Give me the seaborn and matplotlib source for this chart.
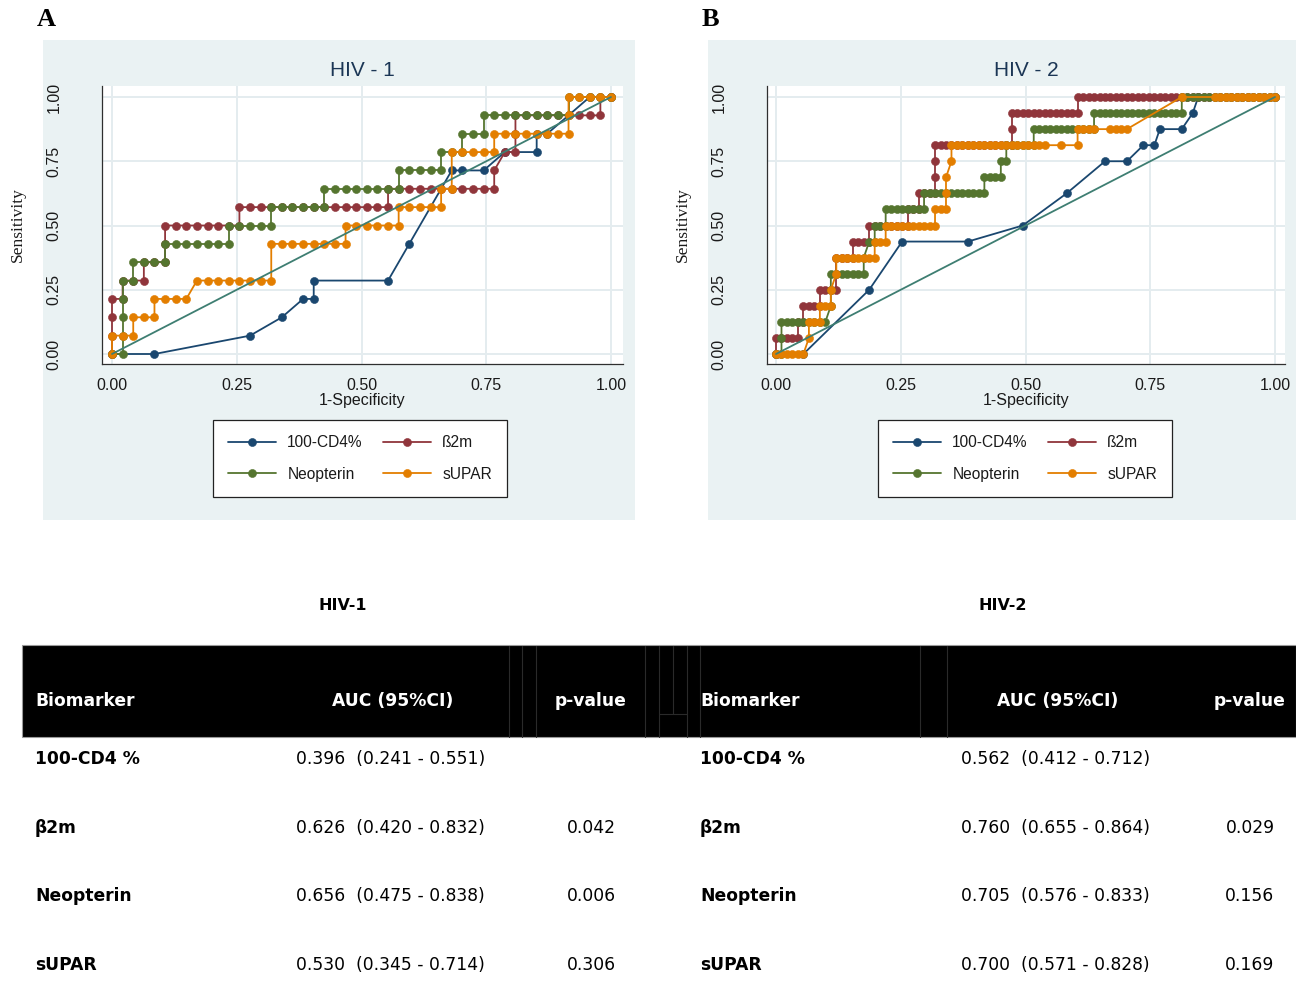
import numpy as np
import pandas as pd
import matplotlib
matplotlib.use("Agg")
import matplotlib.pyplot as plt
from matplotlib.patches import Rectangle
from matplotlib.lines import Line2D
import seaborn as sns

# ---------------------------------------------------------------------------
# ROC curves: (false positives, true positives) counted at each cut-off
# ---------------------------------------------------------------------------
HIV1_N_CONTROLS = 47
HIV1_N_CASES = 14
HIV2_N_CONTROLS = 91
HIV2_N_CASES = 16

hiv1_cd4 = [(0, 0), (4, 0), (13, 1), (16, 2), (18, 3), (19, 3), (19, 4), (26, 4), (28, 6),
            (32, 10), (33, 10), (35, 10), (37, 11), (40, 11), (40, 12), (41, 12), (45, 14), (47, 14)]

hiv1_b2m = [(0, 0), (0, 1), (0, 2), (0, 3), (1, 3), (1, 4), (2, 4), (3, 4), (3, 5), (4, 5), (5, 5),
            (5, 6), (5, 7), (6, 7), (7, 7), (8, 7), (9, 7), (10, 7), (11, 7), (12, 7), (12, 8),
            (13, 8), (14, 8), (15, 8), (16, 8), (17, 8), (18, 8), (19, 8), (20, 8), (21, 8), (22, 8),
            (23, 8), (24, 8), (25, 8), (26, 8), (26, 9), (27, 9), (28, 9), (29, 9), (30, 9), (31, 9),
            (32, 9), (33, 9), (34, 9), (35, 9), (36, 9), (36, 10), (37, 11), (38, 11), (38, 12),
            (38, 13), (39, 13), (40, 13), (41, 13), (42, 13), (43, 13), (44, 13), (45, 13), (46, 13),
            (46, 14), (47, 14)]

hiv1_neo = [(0, 0), (1, 0), (1, 1), (1, 2), (1, 3), (1, 4), (2, 4), (2, 5), (3, 5), (4, 5), (5, 5),
            (5, 6), (6, 6), (7, 6), (8, 6), (9, 6), (10, 6), (11, 6), (11, 7), (12, 7), (13, 7),
            (14, 7), (15, 7), (15, 8), (16, 8), (17, 8), (18, 8), (19, 8), (20, 8), (20, 9), (21, 9),
            (22, 9), (23, 9), (24, 9), (25, 9), (26, 9), (27, 9), (27, 10), (28, 10), (29, 10),
            (30, 10), (31, 10), (31, 11), (32, 11), (33, 11), (33, 12), (34, 12), (35, 12), (35, 13),
            (36, 13), (37, 13), (38, 13), (39, 13), (40, 13), (41, 13), (42, 13), (43, 13), (43, 14),
            (44, 14), (45, 14), (46, 14), (47, 14)]

hiv1_supar = [(0, 0), (0, 1), (1, 1), (2, 1), (2, 2), (3, 2), (4, 2), (4, 3), (5, 3), (6, 3), (7, 3),
              (8, 4), (9, 4), (10, 4), (11, 4), (12, 4), (13, 4), (14, 4), (15, 4), (15, 6), (16, 6),
              (17, 6), (18, 6), (19, 6), (20, 6), (21, 6), (22, 6), (22, 7), (23, 7), (24, 7), (25, 7),
              (26, 7), (27, 7), (27, 8), (28, 8), (29, 8), (30, 8), (31, 8), (31, 9), (32, 9), (32, 11),
              (33, 11), (34, 11), (35, 11), (36, 11), (36, 12), (37, 12), (38, 12), (39, 12), (40, 12),
              (41, 12), (42, 12), (43, 12), (43, 13), (43, 14), (44, 14), (45, 14), (46, 14), (47, 14)]

hiv2_cd4 = [(0, 0), (5, 0), (17, 4), (23, 7), (35, 7), (45, 8), (53, 10), (60, 12), (64, 12), (67, 13),
            (69, 13), (70, 14), (74, 14), (76, 15), (77, 16), (91, 16)]

hiv2_b2m = [(0, 0), (0, 1), (1, 1), (2, 1), (3, 1), (4, 1), (4, 2), (5, 2), (5, 3), (6, 3), (7, 3),
            (8, 3), (8, 4), (9, 4), (10, 4), (11, 4), (11, 5), (11, 6), (12, 6), (13, 6), (14, 6),
            (14, 7), (15, 7), (16, 7), (17, 7), (17, 8), (18, 8), (19, 8), (20, 8), (21, 8), (22, 8),
            (23, 8), (24, 8), (24, 9), (25, 9), (26, 9), (26, 10), (27, 10), (28, 10), (29, 10),
            (29, 11), (29, 12), (29, 13), (30, 13), (31, 13), (32, 13), (33, 13), (34, 13), (35, 13),
            (36, 13), (37, 13), (38, 13), (39, 13), (40, 13), (41, 13), (42, 13), (43, 13), (43, 14),
            (43, 15), (44, 15), (45, 15), (46, 15), (47, 15), (48, 15), (49, 15), (50, 15), (51, 15),
            (52, 15), (53, 15), (54, 15), (55, 15), (55, 16), (56, 16), (57, 16), (58, 16), (59, 16),
            (60, 16), (61, 16), (62, 16), (63, 16), (64, 16), (65, 16), (66, 16), (67, 16), (68, 16),
            (69, 16), (70, 16), (71, 16), (72, 16), (73, 16), (74, 16), (75, 16), (76, 16), (77, 16),
            (78, 16), (79, 16), (80, 16), (81, 16), (82, 16), (83, 16), (84, 16), (85, 16), (86, 16),
            (87, 16), (88, 16), (89, 16), (90, 16), (91, 16)]

hiv2_neo = [(0, 0), (1, 0), (1, 1), (1, 2), (2, 2), (3, 2), (4, 2), (5, 2), (6, 2), (7, 2), (8, 2),
            (9, 2), (10, 3), (10, 4), (10, 5), (11, 5), (12, 5), (13, 5), (14, 5), (15, 5), (16, 5),
            (16, 6), (17, 7), (18, 7), (18, 8), (19, 8), (20, 8), (20, 9), (21, 9), (22, 9), (23, 9),
            (24, 9), (25, 9), (26, 9), (27, 9), (27, 10), (28, 10), (29, 10), (30, 10), (31, 10),
            (32, 10), (33, 10), (34, 10), (35, 10), (36, 10), (37, 10), (38, 10), (38, 11), (39, 11),
            (40, 11), (41, 11), (41, 12), (42, 12), (42, 13), (43, 13), (44, 13), (45, 13), (46, 13),
            (47, 13), (47, 14), (48, 14), (49, 14), (50, 14), (51, 14), (52, 14), (53, 14), (54, 14),
            (55, 14), (56, 14), (57, 14), (58, 14), (58, 15), (59, 15), (60, 15), (61, 15), (62, 15),
            (63, 15), (64, 15), (65, 15), (66, 15), (67, 15), (68, 15), (69, 15), (70, 15), (71, 15),
            (72, 15), (73, 15), (74, 15), (74, 16), (75, 16), (76, 16), (77, 16), (78, 16), (79, 16),
            (80, 16), (81, 16), (82, 16), (83, 16), (84, 16), (85, 16), (86, 16), (87, 16), (88, 16),
            (89, 16), (90, 16), (91, 16)]

hiv2_supar = [(0, 0), (1, 0), (2, 0), (3, 0), (4, 0), (5, 0), (6, 1), (6, 2), (7, 2), (8, 2), (8, 3),
              (9, 3), (10, 3), (10, 4), (11, 5), (11, 6), (12, 6), (13, 6), (14, 6), (15, 6), (16, 6),
              (17, 6), (18, 6), (18, 7), (19, 7), (20, 7), (20, 8), (21, 8), (22, 8), (23, 8), (24, 8),
              (25, 8), (26, 8), (27, 8), (28, 8), (29, 8), (29, 9), (30, 9), (31, 9), (31, 10), (31, 11),
              (32, 12), (32, 13), (33, 13), (34, 13), (35, 13), (36, 13), (37, 13), (38, 13), (39, 13),
              (40, 13), (41, 13), (42, 13), (43, 13), (44, 13), (45, 13), (46, 13), (47, 13), (48, 13),
              (49, 13), (52, 13), (55, 13), (55, 14), (56, 14), (57, 14), (58, 14), (61, 14), (62, 14),
              (63, 14), (64, 14), (74, 16), (80, 16), (81, 16), (82, 16), (83, 16), (84, 16), (85, 16),
              (86, 16), (87, 16), (88, 16), (89, 16), (90, 16), (91, 16)]

series_names = ["100-CD4%", "ß2m", "Neopterin", "sUPAR"]
series_colors = ["#1a476f", "#90353b", "#55752f", "#e37e00"]
reference_line = [0.0, 1.0]
axis_ticks = [0.0, 0.25, 0.5, 0.75, 1.0]
axis_tick_labels = ["0.00", "0.25", "0.50", "0.75", "1.00"]

# ---------------------------------------------------------------------------
# Summary table
# ---------------------------------------------------------------------------
table_markers = ["100-CD4 %", "β2m", "Neopterin", "sUPAR"]
hiv1_auc = [0.396, 0.626, 0.656, 0.530]
hiv1_ci_low = [0.241, 0.420, 0.475, 0.345]
hiv1_ci_high = [0.551, 0.832, 0.838, 0.714]
hiv1_p = [None, 0.042, 0.006, 0.306]
hiv2_auc = [0.562, 0.760, 0.705, 0.700]
hiv2_ci_low = [0.412, 0.655, 0.576, 0.571]
hiv2_ci_high = [0.712, 0.864, 0.833, 0.828]
hiv2_p = [None, 0.029, 0.156, 0.169]

# ---------------------------------------------------------------------------
sns.set_theme(style="white")
plt.rcParams["font.family"] = ["Liberation Sans Narrow", "Liberation Sans", "DejaVu Sans"]

W, H = 1296, 1008
fig = plt.figure(figsize=(W / 100, H / 100), dpi=100)
fig.patch.set_facecolor("white")


def fx(px):
    return px / W


def fy(py):
    return 1 - py / H


REGION = "#eaf2f3"
GRID = "#e4ecef"
REF = "#3e7e72"
TITLE = "#1b3655"
AXIS = "#2f2f2f"
INK = "#1a1a1a"


def panel(curves, n_ctrl, n_case, title, region, axes_px, zero_px, letter, legend_cx):
    rx0, ry0, rx1, ry1 = region
    fig.add_artist(Rectangle((fx(rx0), fy(ry1)), fx(rx1) - fx(rx0), fy(ry0) - fy(ry1),
                             transform=fig.transFigure, facecolor=REGION, edgecolor="none", zorder=0))
    fig.text(fx(rx0 - 6), fy(20), letter, fontsize=19, fontweight="bold",
             family="Liberation Serif", ha="left", va="center", color="black")

    ax0, ay0, ax1, ay1 = axes_px
    ax = fig.add_axes([fx(ax0), fy(ay1), (ax1 - ax0) / W, (ay1 - ay0) / H])
    ax.set_facecolor("white")
    x0px, y0px = zero_px
    unit_x, unit_y = 499.0, 257.0
    ax.set_xlim((ax0 - x0px) / unit_x, (ax1 - x0px) / unit_x)
    ax.set_ylim((y0px - ay1) / unit_y, (y0px - ay0) / unit_y)

    for name, color, pts in zip(series_names, series_colors, curves):
        arr = np.asarray(pts, dtype=float)
        df = pd.DataFrame({"fpr": arr[:, 0] / n_ctrl, "tpr": arr[:, 1] / n_case})
        sns.lineplot(data=df, x="fpr", y="tpr", sort=False, estimator=None, ax=ax,
                     color=color, linewidth=1.3, marker="o", markersize=5.8,
                     markeredgecolor=color, markeredgewidth=0.4, label=name)
    sns.lineplot(x=reference_line, y=reference_line, ax=ax, color=REF, linewidth=1.3,
                 legend=False, zorder=6)

    ax.set_xticks(axis_ticks, axis_tick_labels)
    ax.set_yticks(axis_ticks, axis_tick_labels, rotation=90, va="center")
    ax.grid(True, color=GRID, linewidth=1.4)
    ax.set_axisbelow(True)
    for side in ("top", "right"):
        ax.spines[side].set_visible(False)
    for side in ("left", "bottom"):
        ax.spines[side].set_color(AXIS)
        ax.spines[side].set_linewidth(0.9)
    ax.tick_params(axis="both", direction="out", length=5, width=0.9, color=AXIS,
                   labelsize=11.5, labelcolor=INK)
    ax.tick_params(axis="x", pad=5)
    ax.tick_params(axis="y", pad=24)

    ax.set_xlabel("1-Specificity", fontsize=11.5, color=INK)
    ax.xaxis.set_label_coords(0.5, (ay1 - 401) / (ay1 - ay0))
    ax.xaxis.label.set_va("center")
    ax.set_ylabel("Sensitivity", fontsize=12.5, family="Liberation Serif", color=INK)
    ax.yaxis.set_label_coords(-(ax0 - (rx0 - 25)) / (ax1 - ax0), 0.5)
    ax.yaxis.label.set_va("center")
    ax.set_title(title, fontsize=15, color=TITLE, y=(ay1 - 70) / (ay1 - ay0), va="center", pad=0)

    handles, labels = ax.get_legend_handles_labels()
    ax.get_legend().remove()
    order = [0, 2, 1, 3]
    leg = fig.legend([handles[i] for i in order], [labels[i] for i in order], ncol=2,
                     loc="center", bbox_to_anchor=(fx(legend_cx), fy(458.5)),
                     frameon=True, fancybox=False, edgecolor="#222222", framealpha=1,
                     fontsize=11.2, handlelength=3.1, numpoints=1, columnspacing=1.3,
                     labelspacing=1.05, borderpad=1.0, handletextpad=0.7)
    leg.get_frame().set_linewidth(0.9)
    for t in leg.get_texts():
        t.set_color(INK)
    return ax


panel([hiv1_cd4, hiv1_b2m, hiv1_neo, hiv1_supar], HIV1_N_CONTROLS, HIV1_N_CASES, "HIV - 1",
      (43, 40, 635, 520), (102, 86, 623, 364), (112, 354), "A", 360)
panel([hiv2_cd4, hiv2_b2m, hiv2_neo, hiv2_supar], HIV2_N_CONTROLS, HIV2_N_CASES, "HIV - 2",
      (708, 40, 1296, 520), (767, 86, 1285, 364), (776, 354), "B", 1025)

# ---------------------------------------------------------------------------
# Table of AUC values
# ---------------------------------------------------------------------------
TFONT = "DejaVu Sans"
TSIZE = 12.3

fig.text(fx(343), fy(605), "HIV-1", fontsize=11.5, fontweight="bold", family=TFONT,
         ha="center", va="center", color="black")
fig.text(fx(1003), fy(605), "HIV-2", fontsize=11.5, fontweight="bold", family=TFONT,
         ha="center", va="center", color="black")

fig.add_artist(Rectangle((fx(22), fy(737)), fx(1296) - fx(22), fy(645) - fy(737),
                         transform=fig.transFigure, facecolor="black", edgecolor="#9a9a9a",
                         linewidth=0.8, zorder=1))
for xr in [509, 522, 536, 645, 659, 687, 700, 920, 947]:
    fig.add_artist(Line2D([fx(xr), fx(xr)], [fy(737), fy(646)], transform=fig.transFigure,
                          color="#2a2a2a", linewidth=0.8, zorder=2))
fig.add_artist(Line2D([fx(673), fx(673)], [fy(714), fy(646)], transform=fig.transFigure,
                      color="#2a2a2a", linewidth=0.8, zorder=2))
fig.add_artist(Line2D([fx(659), fx(687)], [fy(714), fy(714)], transform=fig.transFigure,
                      color="#2a2a2a", linewidth=0.8, zorder=2))

header_y = 701
for base, auc_cx, p_cx in [(35, 393, 591), (700, 1058, 1250)]:
    fig.text(fx(base), fy(header_y), "Biomarker", color="white", fontsize=TSIZE, fontweight="bold",
             family=TFONT, ha="left", va="center", zorder=3)
    fig.text(fx(auc_cx), fy(header_y), "AUC (95%CI)", color="white", fontsize=TSIZE, fontweight="bold",
             family=TFONT, ha="center", va="center", zorder=3)
    fig.text(fx(p_cx), fy(header_y), "p-value", color="white", fontsize=TSIZE, fontweight="bold",
             family=TFONT, ha="center", va="center", zorder=3)

row_y = [759, 828, 896, 965]
for base, val_x, p_cx, auc, lo, hi, pv in [
        (35, 296, 591, hiv1_auc, hiv1_ci_low, hiv1_ci_high, hiv1_p),
        (700, 961, 1250, hiv2_auc, hiv2_ci_low, hiv2_ci_high, hiv2_p)]:
    for k, yy in enumerate(row_y):
        fig.text(fx(base), fy(yy), table_markers[k], fontsize=TSIZE, fontweight="bold",
                 family=TFONT, ha="left", va="center", color="black")
        fig.text(fx(val_x), fy(yy), f"{auc[k]:.3f}  ({lo[k]:.3f} - {hi[k]:.3f})", fontsize=TSIZE,
                 family=TFONT, ha="left", va="center", color="black")
        if pv[k] is not None:
            fig.text(fx(p_cx), fy(yy), f"{pv[k]:.3f}", fontsize=TSIZE, family=TFONT,
                     ha="center", va="center", color="black")

fig.savefig("out.png", dpi=100, facecolor="white")
